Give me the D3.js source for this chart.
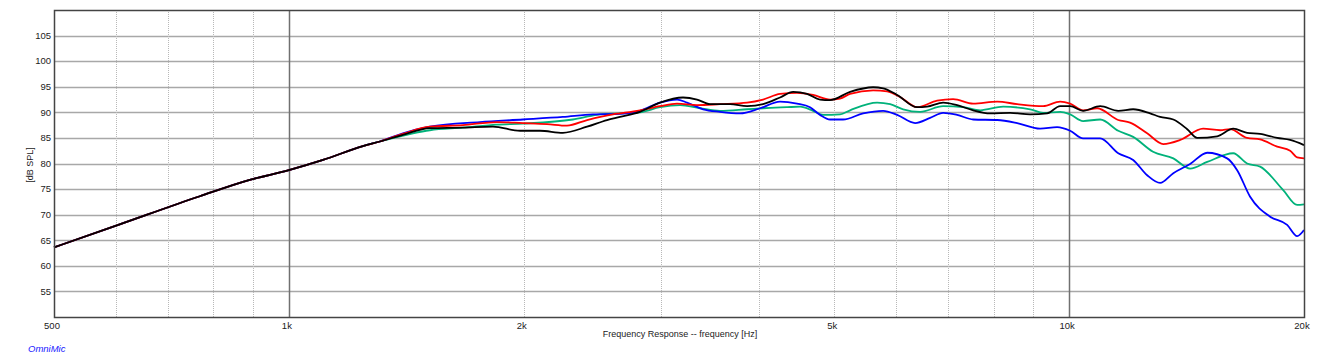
<!DOCTYPE html>
<html>
<head>
<meta charset="utf-8">
<script src="https://cdn.jsdelivr.net/npm/d3@7"></script>
<style>
  body { margin: 0; background: #fff; }
  svg { display: block; font-family: "Liberation Sans", Arial, sans-serif; }
</style>
</head>
<body>
<svg id="chart" width="1317" height="362"></svg>
<script>
// Frequency response data [Hz, dB SPL]
const lowEnd = [
  [500, 63.6], [607, 68.1], [769, 73.6], [891, 76.8], [1000, 78.7],
  [1106, 80.7], [1244, 83.4], [1308, 84.3]
];

const blackData = lowEnd.concat([
  [1400, 85.6], [1516, 86.9], [1671, 87.0], [1826, 87.2], [1978, 86.4], [2098, 86.4],
  [2245, 86.0], [2411, 87.2], [2557, 88.5], [2657, 89.1], [2818, 90.1], [2990, 91.9],
  [3200, 92.9], [3335, 92.5], [3465, 91.6], [3676, 91.6], [3866, 91.2], [4053, 91.6],
  [4261, 92.9], [4428, 94.0], [4614, 93.6], [4795, 92.5], [4938, 92.4], [5239, 94.0],
  [5608, 94.9], [5776, 94.7], [6020, 93.4], [6385, 91.0], [6576, 91.1], [6895, 91.9],
  [7185, 91.4], [7533, 90.4], [7921, 89.8], [8404, 89.9], [8913, 89.6], [9372, 89.8],
  [9739, 91.2], [10030, 91.2], [10420, 90.3], [10960, 91.2], [11560, 90.3], [12080, 90.6],
  [12700, 89.8], [13080, 89.1], [13600, 88.6], [14170, 86.7], [14590, 85.0], [15480, 85.3],
  [16230, 86.8], [16910, 86.0], [17570, 85.8], [18480, 85.0], [19200, 84.6], [20000, 83.6]
]);

const redData = lowEnd.concat([
  [1400, 85.8], [1516, 87.2], [1671, 87.5], [1848, 88.1], [1995, 87.9], [2142, 87.7],
  [2272, 87.4], [2411, 88.5], [2603, 89.6], [2657, 89.8], [2818, 90.4], [2990, 91.2],
  [3144, 91.7], [3335, 91.4], [3569, 91.6], [3866, 91.9], [4053, 92.5], [4261, 93.6],
  [4480, 93.8], [4697, 93.4], [4938, 92.5], [5086, 92.7], [5239, 93.6], [5608, 94.3],
  [5845, 94.1], [6073, 93.0], [6385, 91.0], [6774, 92.3], [7101, 92.6], [7533, 91.7],
  [8087, 92.1], [8579, 91.6], [9262, 91.2], [9739, 92.1], [10030, 91.7], [10420, 90.4],
  [10860, 90.8], [11560, 88.5], [11970, 88.0], [12590, 85.9], [13200, 83.8], [13880, 84.6],
  [14850, 86.8], [15620, 86.5], [16080, 86.7], [16910, 85.0], [17570, 84.7], [18480, 83.3],
  [19200, 82.5], [19600, 81.2], [20000, 81.0]
]);

const greenData = lowEnd.concat([
  [1442, 85.9], [1516, 86.5], [1671, 87.0], [1848, 87.6], [1995, 87.8], [2312, 88.6],
  [2482, 89.5], [2657, 89.8], [2818, 90.0], [2990, 91.0], [3172, 91.4], [3365, 90.8],
  [3569, 90.3], [3866, 90.6], [4053, 90.8], [4350, 91.0], [4520, 91.1], [4697, 90.3],
  [4837, 89.5], [5086, 89.6], [5239, 90.4], [5675, 91.9], [5897, 91.6], [6127, 90.6],
  [6442, 90.1], [6895, 91.2], [7314, 91.0], [7691, 90.4], [8232, 91.1], [8913, 90.6],
  [9262, 89.9], [9739, 90.1], [10030, 89.6], [10420, 88.3], [10960, 88.6], [11560, 86.4],
  [12080, 85.2], [12810, 82.3], [13600, 81.0], [14290, 79.0], [15030, 80.3], [16230, 82.0],
  [16910, 80.0], [17570, 79.4], [18810, 74.8], [19600, 71.9], [20000, 72.0]
]);

const blueData = lowEnd.concat([
  [1400, 85.9], [1516, 87.2], [1757, 88.1], [1995, 88.6], [2245, 89.1], [2453, 89.6],
  [2657, 89.7], [2818, 90.3], [2990, 91.9], [3144, 92.5], [3238, 91.9], [3395, 90.6],
  [3569, 90.1], [3786, 89.8], [4017, 90.8], [4261, 92.1], [4480, 91.7], [4655, 91.0],
  [4795, 89.5], [4938, 88.6], [5132, 88.6], [5445, 89.8], [5776, 90.3], [6020, 89.5],
  [6348, 87.9], [6635, 88.9], [6895, 89.9], [7185, 89.5], [7533, 88.6], [8087, 88.5],
  [8579, 87.9], [9180, 86.8], [9652, 87.1], [10030, 86.4], [10420, 84.9], [10960, 84.9],
  [11560, 82.0], [12080, 80.7], [12590, 77.7], [13080, 76.2], [13600, 78.1], [14290, 79.9],
  [15030, 82.1], [15940, 81.0], [16420, 78.7], [17060, 73.5], [18100, 69.6], [19030, 68.0],
  [19600, 65.8], [20000, 67.0]
]);

const yTicks = [55, 60, 65, 70, 75, 80, 85, 90, 95, 100, 105];
const xTicks = [500, 1000, 2000, 5000, 10000, 20000];
const xTickLabels = ["500", "1k", "2k", "5k", "10k", "20k"];
const minorFreqs = [600, 700, 800, 900, 2000, 3000, 4000, 5000, 6000, 7000, 8000, 9000];
const majorFreqs = [1000, 10000];

const series = [
  { name: "green", data: greenData, color: "#00b27a" },
  { name: "blue", data: blueData, color: "#0000ff" },
  { name: "red", data: redData, color: "#ff0000" },
  { name: "black", data: blackData, color: "#000000" }
];

// Layout
const margin = { top: 10, right: 13, bottom: 45, left: 54 };
const width = 1317 - margin.left - margin.right;
const height = 362 - margin.top - margin.bottom;

const svg = d3.select("#chart");
const g = svg.append("g")
  .attr("transform", `translate(${margin.left}, ${margin.top})`);

const x = d3.scaleLog().domain([500, 20000]).range([0, width]);
const y = d3.scaleLinear().domain([50, 110]).range([height, 0]);

// Horizontal grid
g.append("g").selectAll("line")
  .data(yTicks)
  .enter()
  .append("line")
  .attr("x1", 0).attr("x2", width)
  .attr("y1", d => Math.round(y(d)) + 0.5)
  .attr("y2", d => Math.round(y(d)) + 0.5)
  .attr("stroke", "#a8a8a8")
  .attr("stroke-width", 1.3);

// Minor vertical grid (dotted)
g.append("g").selectAll("line")
  .data(minorFreqs)
  .enter()
  .append("line")
  .attr("x1", d => Math.round(x(d)) + 0.5)
  .attr("x2", d => Math.round(x(d)) + 0.5)
  .attr("y1", 0).attr("y2", height)
  .attr("stroke", "#b8b8b8")
  .attr("stroke-width", 1)
  .attr("stroke-dasharray", "1,1");

// Major vertical grid
g.append("g").selectAll("line")
  .data(majorFreqs)
  .enter()
  .append("line")
  .attr("x1", d => Math.round(x(d)) + 0.5)
  .attr("x2", d => Math.round(x(d)) + 0.5)
  .attr("y1", 0).attr("y2", height)
  .attr("stroke", "#707070")
  .attr("stroke-width", 1.5);

// Curves
const line = d3.line()
  .x(d => x(d[0]))
  .y(d => y(d[1]))
  .curve(d3.curveMonotoneX);

g.append("g").selectAll("path")
  .data(series)
  .enter()
  .append("path")
  .attr("d", d => line(d.data))
  .attr("fill", "none")
  .attr("stroke", d => d.color)
  .attr("stroke-width", 1.8)
  .attr("stroke-linejoin", "round");

// Frame
g.append("rect")
  .attr("x", 0.5).attr("y", 0.5)
  .attr("width", width).attr("height", height)
  .attr("fill", "none")
  .attr("stroke", "#444")
  .attr("stroke-width", 1.5);

// Y axis tick labels
g.append("g").selectAll("text")
  .data(yTicks)
  .enter()
  .append("text")
  .attr("x", -3)
  .attr("y", d => y(d))
  .attr("dy", "0.35em")
  .attr("text-anchor", "end")
  .attr("font-size", "9.5px")
  .attr("fill", "#222")
  .text(d => d);

// X axis tick labels
g.append("g").selectAll("text")
  .data(xTicks)
  .enter()
  .append("text")
  .attr("x", d => x(d) - 2)
  .attr("y", height + 12)
  .attr("text-anchor", "middle")
  .attr("font-size", "9.5px")
  .attr("fill", "#222")
  .text((d, i) => xTickLabels[i]);

// X axis title
svg.append("text")
  .attr("x", 680)
  .attr("y", 337)
  .attr("text-anchor", "middle")
  .attr("font-size", "9px")
  .attr("fill", "#222")
  .text("Frequency Response -- frequency [Hz]");

// Y axis title
svg.append("text")
  .attr("transform", "rotate(-90)")
  .attr("x", -165)
  .attr("y", 33)
  .attr("text-anchor", "middle")
  .attr("font-size", "9px")
  .attr("fill", "#222")
  .text("[dB SPL]");

// Brand label
svg.append("text")
  .attr("x", 28)
  .attr("y", 352)
  .attr("font-size", "9.5px")
  .attr("font-style", "italic")
  .attr("fill", "#2020ff")
  .text("OmniMic");
</script>
</body>
</html>
